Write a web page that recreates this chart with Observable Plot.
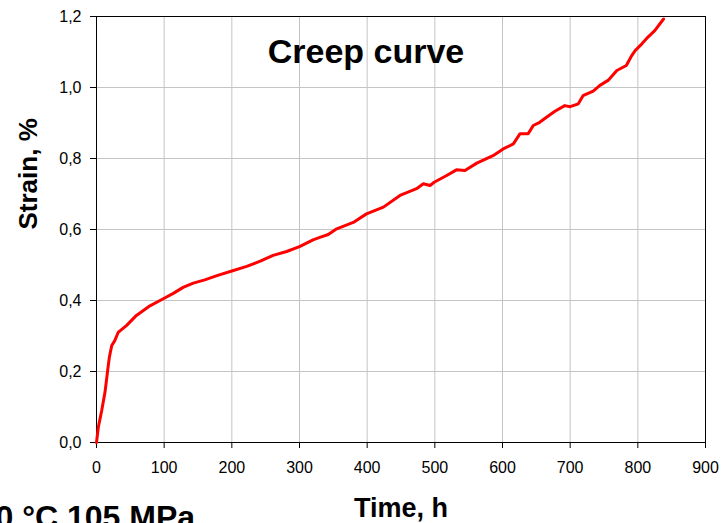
<!DOCTYPE html>
<html>
<head>
<meta charset="utf-8">
<script src="https://cdn.jsdelivr.net/npm/d3@7"></script>
<script src="https://cdn.jsdelivr.net/npm/@observablehq/plot@0.6"></script>
<style>
  body { margin: 0; background: #fff; overflow: hidden; }
</style>
</head>
<body>
<div id="chart"></div>
<script>
// Creep test record: time in hours, strain in percent
const time = [
  0, 2.7, 7.7, 12.6, 16.5, 19, 22.5, 27, 32, 44.6, 59, 79, 98.7,
  113.5, 128, 143, 160, 178, 200, 222, 242, 261, 281, 300, 320, 330,
  342.5, 355, 379.5, 399, 424, 448.5, 473, 483, 493, 499, 517.5, 532,
  544.5, 562, 586, 601, 616, 626, 638, 645.5, 655, 665, 677.5, 692,
  700, 712, 719, 734, 744, 756, 769, 783, 791, 796, 806, 815, 825, 838
];
const strain = [
  0, 0.043, 0.09, 0.142, 0.203, 0.24, 0.273, 0.287, 0.31, 0.33, 0.358, 0.385, 0.405,
  0.42, 0.437, 0.449, 0.458, 0.47, 0.483, 0.496, 0.511, 0.527, 0.538, 0.552, 0.571, 0.578,
  0.586, 0.602, 0.62, 0.644, 0.663, 0.696, 0.715, 0.729, 0.724, 0.733, 0.752, 0.768,
  0.766, 0.787, 0.808, 0.827, 0.841, 0.87, 0.87, 0.893, 0.902, 0.916, 0.933, 0.949,
  0.946, 0.954, 0.977, 0.99, 1.006, 1.02, 1.048, 1.062, 1.09, 1.104, 1.123, 1.142, 1.16, 1.193
];

const xTicks = [0, 100, 200, 300, 400, 500, 600, 700, 800, 900];
const yTicks = [0, 0.2, 0.4, 0.6, 0.8, 1.0, 1.2];

const chartTitle = "Creep curve";
const xLabel = "Time, h";
const yLabel = "Strain, %";
const testConditions = "0 °C 105 MPa";

const records = time.map((t, i) => ({time: t, strain: strain[i]}));
const commaDecimal = d => d.toFixed(1).replace(".", ",");
const gridColor = "#c4c4c4";

const chart = Plot.plot({
  width: 722,
  height: 523,
  marginLeft: 96,
  marginRight: 17,
  marginTop: 16,
  marginBottom: 81,
  style: {
    fontFamily: "'Liberation Sans', Arial, Helvetica, sans-serif",
    background: "#fff",
    color: "#000",
    overflow: "visible"
  },
  x: {domain: [0, 900]},
  y: {domain: [0, 1.2]},
  marks: [
    Plot.gridX(xTicks, {stroke: gridColor, strokeOpacity: 1}),
    Plot.gridY(yTicks, {stroke: gridColor, strokeOpacity: 1}),
    Plot.frame({stroke: "#000", strokeWidth: 1}),
    Plot.axisX(xTicks, {tickSize: 6, tickPadding: 13, fontSize: 16, label: null}),
    Plot.axisY(yTicks, {tickSize: 6, tickPadding: 9, fontSize: 16, label: null, tickFormat: commaDecimal}),
    Plot.line(records, {x: "time", y: "strain", stroke: "#ff0000", strokeWidth: 3, strokeLinejoin: "round"}),
    Plot.text([chartTitle], {
      text: d => d, frameAnchor: "top", dx: -35, dy: 22,
      lineAnchor: "top", fontSize: 34, fontWeight: "bold"
    }),
    Plot.text([xLabel], {
      text: d => d, frameAnchor: "bottom", dx: 0, dy: 55,
      lineAnchor: "top", fontSize: 27, fontWeight: "bold"
    }),
    Plot.text([yLabel], {
      text: d => d, frameAnchor: "left", dx: -78, dy: 0, rotate: -90,
      lineAnchor: "top", fontSize: 26, fontWeight: "bold"
    }),
    Plot.text([testConditions], {
      text: d => d, frameAnchor: "bottom-left", dx: -101, dy: 63,
      textAnchor: "start", lineAnchor: "top", fontSize: 32, fontWeight: "bold"
    })
  ]
});

document.getElementById("chart").appendChild(chart);
</script>
</body>
</html>
